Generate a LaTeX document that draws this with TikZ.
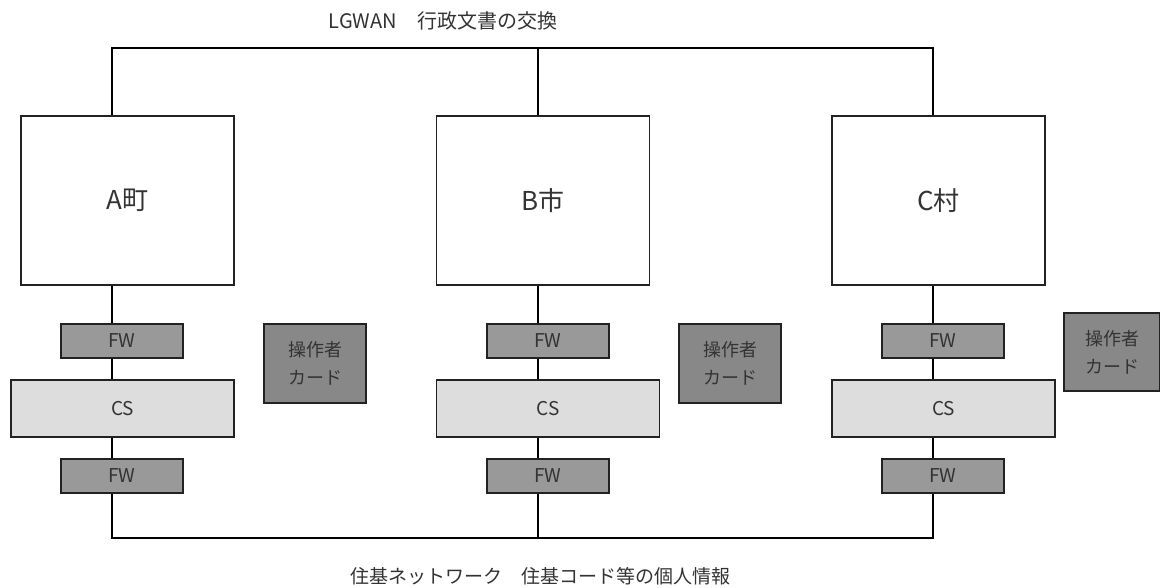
\documentclass[tikz,border=0pt]{standalone}
\usepackage{fontspec}
\setmainfont{Noto Sans CJK JP}
\definecolor{txt}{HTML}{333333}
\definecolor{fwfill}{HTML}{999999}
\definecolor{cardfill}{HTML}{888888}
\definecolor{csfill}{HTML}{DDDDDD}
\definecolor{edge}{HTML}{222222}
\tikzset{
  box/.style={draw=edge, line width=1.4pt, inner sep=0pt, text=txt, align=center},
  city/.style={box, fill=white, minimum width=213pt, minimum height=169pt, font=\fontsize{26}{30}\selectfont},
  fwbox/.style={box, fill=fwfill, minimum width=122pt, minimum height=34pt, font=\fontsize{19}{22}\selectfont},
  csbox/.style={box, fill=csfill, minimum width=223pt, minimum height=57pt, font=\fontsize{19}{22}\selectfont},
  card/.style={box, fill=cardfill, minimum width=102pt, minimum height=79pt, font=\fontsize{18}{28}\selectfont},
  wire/.style={draw=black, line width=2.4pt},
  caption/.style={text=txt, inner sep=0pt},
}
\begin{document}
\begin{tikzpicture}[x=1pt,y=-1pt]
\useasboundingbox[fill=white] (0,0) rectangle (1160,587);
% bus coordinates
\coordinate (tA) at (112,48);
\coordinate (tB) at (538,48);
\coordinate (tC) at (933,48);
\coordinate (bA) at (112,538);
\coordinate (bB) at (538,538);
\coordinate (bC) at (933,538);
% captions
\node[caption, font=\fontsize{20}{22}\selectfont] (top) at (443,21) {LGWAN　行政文書の交換};
\node[caption, font=\fontsize{19}{22}\selectfont] (bot) at (540,576) {住基ネットワーク　住基コード等の個人情報};
% city boxes
\node[city] (A) at (127.5,200.5) {A町};
\node[city] (B) at (543,200.5) {B市};
\node[city] (C) at (938.5,200.5) {C村};
% FW / CS stacks
\node[fwbox] (fwA1) at (122,341) {FW};
\node[csbox] (csA) at (122.5,408.5) {CS};
\node[fwbox] (fwA2) at (122,476) {FW};
\node[fwbox] (fwB1) at (548,341) {FW};
\node[csbox] (csB) at (548,408.5) {CS};
\node[fwbox] (fwB2) at (548,476) {FW};
\node[fwbox] (fwC1) at (943,341) {FW};
\node[csbox] (csC) at (943.5,408.5) {CS};
\node[fwbox] (fwC2) at (943,476) {FW};
% cards
\node[card] (cardA) at (315,363.5) {操作者\\カード};
\node[card] (cardB) at (730,363.5) {操作者\\カード};
\node[card, minimum width=96pt, minimum height=78pt] (cardC) at (1112,352) {操作者\\カード};
% top bus
\draw[wire, line cap=rect] (tA) -- (tC);
\draw[wire] (tA) -- (tA |- A.north);
\draw[wire] (tB) -- (tB |- B.north);
\draw[wire] (tC) -- (tC |- C.north);
% bottom bus
\draw[wire, line cap=rect] (bA) -- (bC);
\draw[wire] (fwA2.south -| bA) -- (bA);
\draw[wire] (fwB2.south -| bB) -- (bB);
\draw[wire] (fwC2.south -| bC) -- (bC);
% stacks
\draw[wire] (A.south -| tA) -- (fwA1.north -| tA);
\draw[wire] (fwA1.south -| tA) -- (csA.north -| tA);
\draw[wire] (csA.south -| tA) -- (fwA2.north -| tA);
\draw[wire] (B.south -| tB) -- (fwB1.north -| tB);
\draw[wire] (fwB1.south -| tB) -- (csB.north -| tB);
\draw[wire] (csB.south -| tB) -- (fwB2.north -| tB);
\draw[wire] (C.south -| tC) -- (fwC1.north -| tC);
\draw[wire] (fwC1.south -| tC) -- (csC.north -| tC);
\draw[wire] (csC.south -| tC) -- (fwC2.north -| tC);
\end{tikzpicture}
\end{document}
